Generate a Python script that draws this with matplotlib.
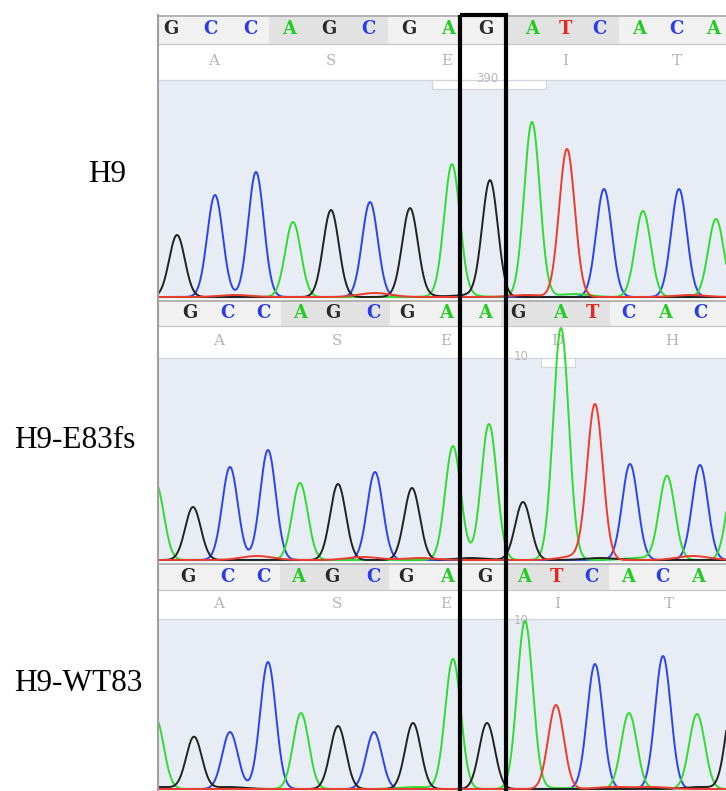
import numpy as np
import matplotlib
matplotlib.use("Agg")
import matplotlib.pyplot as plt
from matplotlib.patches import Rectangle

W, H = 726, 791
DPI = 100

# ---------------- data ----------------
sample_names = ["H9", "H9-E83fs", "H9-WT83"]

# base calls shown in the header bar and their scan positions
calls_h9 = "GCCAGCGAGATCACA"
call_pos_h9 = [171, 210, 250, 289, 329, 368, 409, 448, 486, 532, 565, 599, 639, 676, 713]
calls_fs = "GCCAGCGAAGATCAC"
call_pos_fs = [190, 227, 263, 300, 333, 373, 407, 446, 485, 518, 560, 592, 628, 665, 700]
calls_wt = "GCCAGCGAGATCACA"
call_pos_wt = [188, 227, 263, 298, 332, 373, 406, 447, 485, 524, 556, 591, 628, 662, 698]

# translated amino acids
aa_h9 = "ASEIT"
aa_pos_h9 = [214, 331, 447, 565, 677]
aa_fs = "ASEDH"
aa_pos_fs = [219, 337, 446, 557, 672]
aa_wt = "ASEIT"
aa_pos_wt = [219, 337, 446, 557, 669]

# ruler numbers
ruler_txt = ["390", "10", "10"]
ruler_pos = [487, 521, 521]

# main chromatogram peaks: base, scan position, intensity
peak_base_h9 = "GCCAGCGAGATCACA"
peak_pos_h9 = [177, 215, 256, 293, 331, 370, 410, 452, 490, 532, 567, 604, 643, 679, 716]
peak_h_h9 = [62, 102, 125, 75, 87, 95, 87, 130, 116, 175, 148, 108, 86, 108, 78]

peak_base_fs = "AGCCAGCGAAGATCACA"
peak_pos_fs = [156, 193, 230, 268, 300, 338, 375, 412, 453, 489, 523, 561, 595, 630, 667, 700, 735]
peak_h_fs = [76, 53, 93, 110, 77, 76, 88, 72, 114, 136, 58, 232, 154, 96, 84, 95, 90]

peak_base_wt = "AGCCAGCGAGATCACAG"
peak_pos_wt = [156, 194, 230, 268, 301, 338, 374, 413, 453, 487, 525, 556, 595, 629, 663, 697, 734]
peak_h_wt = [70, 52, 57, 127, 76, 63, 57, 66, 130, 66, 168, 84, 125, 76, 133, 75, 95]

# small background peaks near the baseline
minor_base_h9 = "TTGATAGT"
minor_pos_h9 = [235, 375, 415, 456, 525, 574, 470, 690]
minor_h_h9 = [2, 4, 2, 3, 2, 3, 2, 2]

minor_base_fs = "TTTGTGAT"
minor_pos_fs = [257, 363, 420, 470, 577, 600, 640, 693]
minor_h_fs = [4, 3, 2, 2, 4, 2, 2, 4]

minor_base_wt = "GGATTGA"
minor_pos_wt = [228, 160, 415, 612, 652, 700, 560]
minor_h_wt = [2, 2, 2, 2, 2, 2, 1]

# ---------------- style ----------------
trace_col = {"A": "#2fdc2f", "C": "#2b45ee", "G": "#222222", "T": "#ee3b2b"}
call_col = {"A": "#22cc22", "C": "#2a3ce8", "G": "#2a2a2a", "T": "#e42a20"}
SIGMA = 7.8

panels = [
    dict(name=sample_names[0], calls=calls_h9, cpos=call_pos_h9, aa=aa_h9, apos=aa_pos_h9,
         pb=peak_base_h9, pp=peak_pos_h9, ph=peak_h_h9,
         mb=minor_base_h9, mp=minor_pos_h9, mh=minor_h_h9,
         top=15, bar_bot=44, aa_bot=80, tabs=[(432, 546, 89)], base=297, bottom=299,
         lab_x=88, lab_y=182, ruler_y=78),
    dict(name=sample_names[1], calls=calls_fs, cpos=call_pos_fs, aa=aa_fs, apos=aa_pos_fs,
         pb=peak_base_fs, pp=peak_pos_fs, ph=peak_h_fs,
         mb=minor_base_fs, mp=minor_pos_fs, mh=minor_h_fs,
         top=300, bar_bot=326, aa_bot=358, tabs=[(541, 575, 367)], base=560, bottom=562,
         lab_x=14, lab_y=448, ruler_y=357),
    dict(name=sample_names[2], calls=calls_wt, cpos=call_pos_wt, aa=aa_wt, apos=aa_pos_wt,
         pb=peak_base_wt, pp=peak_pos_wt, ph=peak_h_wt,
         mb=minor_base_wt, mp=minor_pos_wt, mh=minor_h_wt,
         top=563, bar_bot=590, aa_bot=619, tabs=[], base=789, bottom=791,
         lab_x=14, lab_y=691, ruler_y=620),
]

fig = plt.figure(figsize=(W / DPI, H / DPI), dpi=DPI)
fig.patch.set_facecolor("white")

X0, X1 = 157, 726
xs = np.linspace(130, 760, 3000)

for k, p in enumerate(panels):
    top, bottom, base = p["top"], p["bottom"], p["base"]
    ax = fig.add_axes([X0 / W, 1 - bottom / H, (X1 - X0) / W, (bottom - top) / H])
    ax.set_xlim(X0, X1)
    ax.set_ylim(base - bottom, base - top)
    ax.axis("off")
    ytop = base - top
    ybar = base - p["bar_bot"]
    yaa = base - p["aa_bot"]
    ylo = base - bottom

    # trace background
    ax.add_patch(Rectangle((X0, ylo), X1 - X0, yaa - ylo, facecolor="#e8ecf5",
                           edgecolor="none", zorder=0))
    # amino acid row
    ax.add_patch(Rectangle((X0, yaa), X1 - X0, ybar - yaa, facecolor="white",
                           edgecolor="none", zorder=1))
    ax.plot([X0, X1], [yaa, yaa], color="#d0d5e0", lw=0.9, zorder=1.2)
    for (tl, tr, tb) in p["tabs"]:
        yt = base - tb
        ax.add_patch(Rectangle((tl, yt), tr - tl, yaa - yt, facecolor="white",
                               edgecolor="none", zorder=1.1))
        ax.plot([tl, tl, tr, tr], [yaa, yt, yt, yaa], color="#d0d5e0", lw=0.9, zorder=1.2)
    for a, xpos in zip(p["aa"], p["apos"]):
        ax.text(xpos, (yaa + ybar) / 2 + 1, a, ha="center", va="center",
                fontsize=11, color="#b4b4b4", family="DejaVu Serif", zorder=1.5)
    ax.text(ruler_pos[k], base - p["ruler_y"], ruler_txt[k], ha="center", va="center",
            fontsize=8.5, color="#b8b8b8", family="DejaVu Sans", zorder=1.5)

    # traces
    curves = {b: np.zeros_like(xs) for b in "GTAC"}
    for b, c, h in zip(p["pb"], p["pp"], p["ph"]):
        curves[b] += h * np.exp(-(xs - c) ** 2 / (2 * SIGMA ** 2))
    for b, c, h in zip(p["mb"], p["mp"], p["mh"]):
        curves[b] += h * np.exp(-(xs - c) ** 2 / (2 * (2.0 * SIGMA) ** 2))
    for b in "CAGT":
        ax.plot(xs, curves[b], color=trace_col[b], lw=1.4, zorder=3,
                solid_joinstyle="round")

    # base call bar with codon shading
    cp = p["cpos"]
    edges = [X0] + [(cp[i] + cp[i + 1]) / 2 for i in range(len(cp) - 1)] + [X1]
    for ci in range(0, len(cp), 3):
        x_l = edges[ci]
        x_r = edges[min(ci + 3, len(cp))]
        shade = "#f1f1f1" if (ci // 3) % 2 == 0 else "#e2e2e2"
        ax.add_patch(Rectangle((x_l, ybar), x_r - x_l, ytop - ybar, facecolor=shade,
                               edgecolor="none", zorder=4))
    ax.plot([X0, X1], [ybar, ybar], color="#c8c8c8", lw=0.9, zorder=4.5)
    ax.plot([X0, X1], [ytop - 0.5, ytop - 0.5], color="#a8a8a8", lw=1.2, zorder=4.5)
    for b, xpos in zip(p["calls"], cp):
        ax.text(xpos, (ybar + ytop) / 2, b, ha="center", va="center", fontsize=13,
                fontweight="bold", color=call_col[b], family="DejaVu Serif", zorder=5)

# overlay: labels, left border, highlight box
ov = fig.add_axes([0, 0, 1, 1], facecolor="none")
ov.set_xlim(0, W)
ov.set_ylim(H, 0)
ov.axis("off")
ov.plot([X0 + 0.5, X0 + 0.5], [15, H], color="#a0a0a0", lw=1.5)
for p in panels:
    ov.text(p["lab_x"], p["lab_y"], p["name"], ha="left", va="baseline",
            fontsize=22.5, family="Liberation Serif", color="black")
ov.add_patch(Rectangle((459.5, 14.5), 506 - 459.5, 800, facecolor="none",
                       edgecolor="black", lw=3.0, joinstyle="miter", clip_on=False))

fig.savefig("out.png", dpi=DPI)
